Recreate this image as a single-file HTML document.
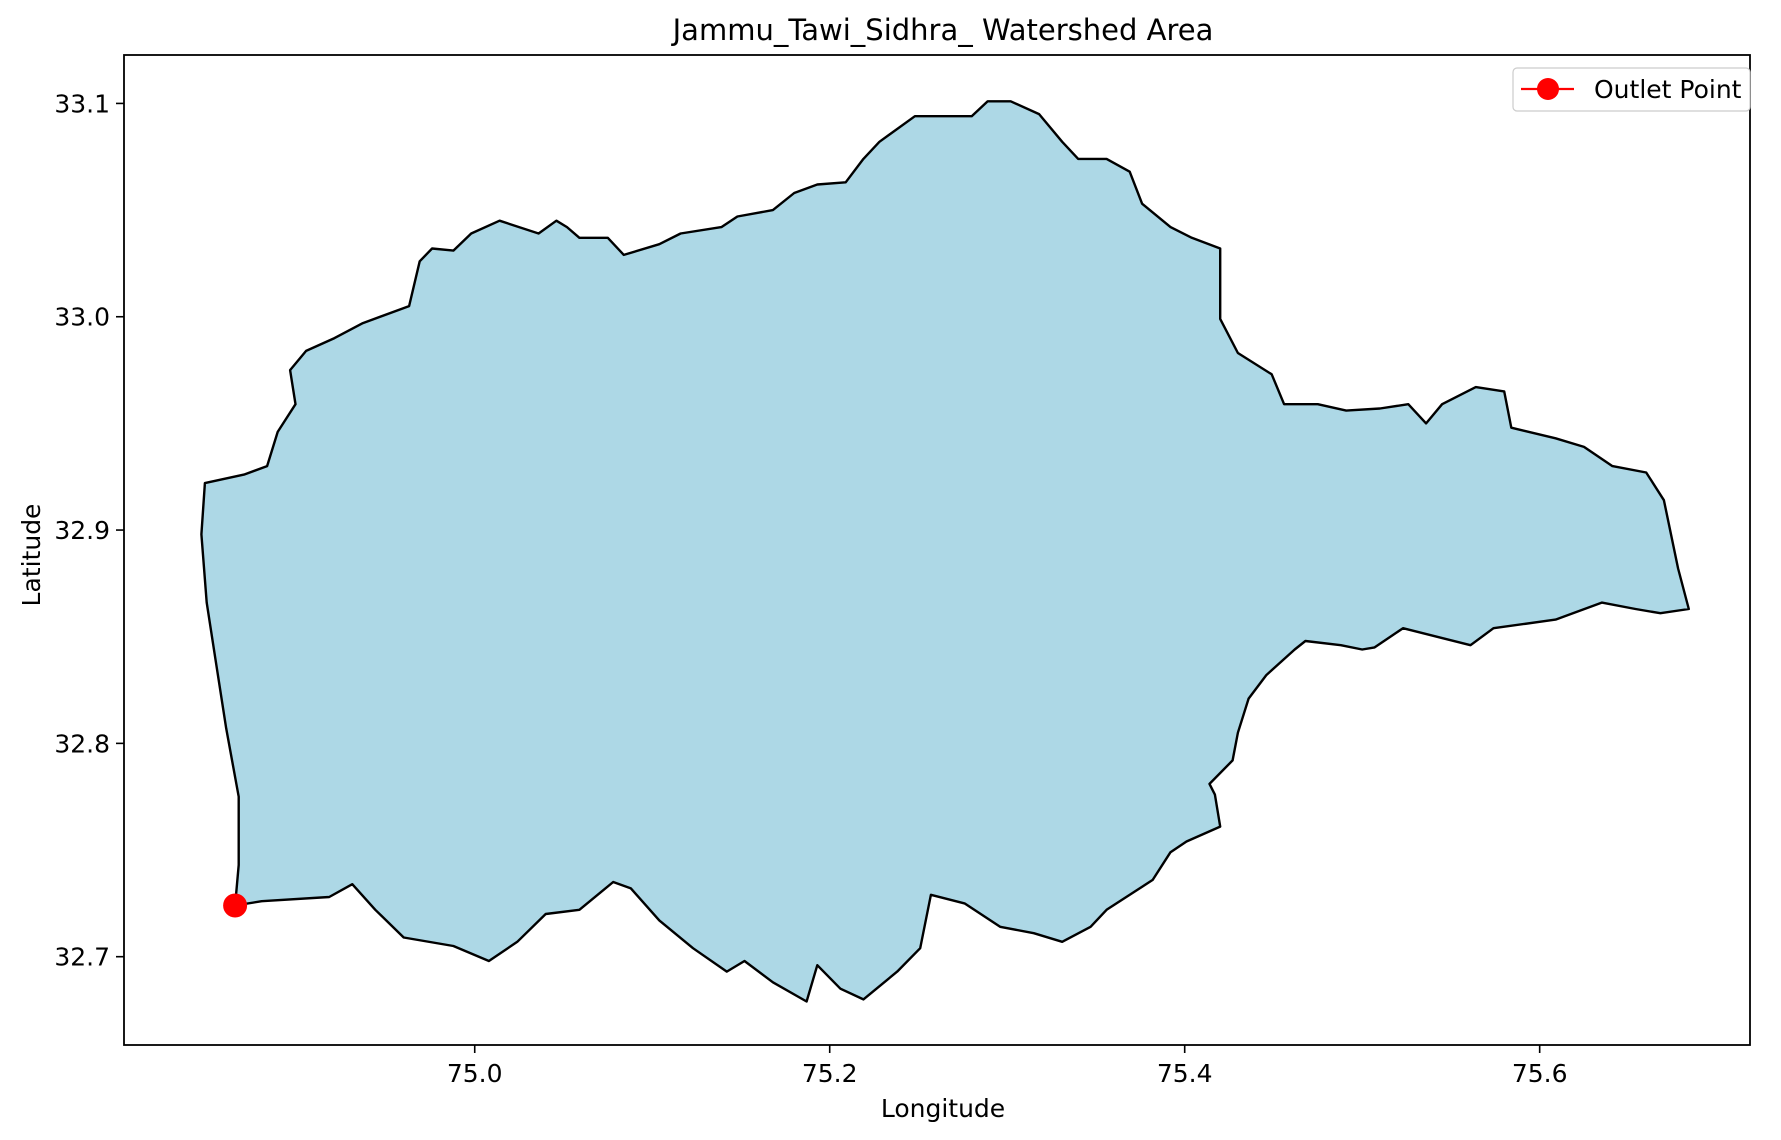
<!DOCTYPE html>
<html><head><meta charset="utf-8"><style>
html,body{margin:0;padding:0;background:#fff;}
svg{display:block;font-family:"DejaVu Sans","Liberation Sans",sans-serif;}
</style></head><body>
<svg id="chart" width="1781" height="1140" viewBox="0 0 1781 1140">
<text x="943" y="40" font-size="29" text-anchor="middle">Jammu_Tawi_Sidhra_ Watershed Area</text>
<g id="plot"></g>
<g id="axes"></g>
<text x="943" y="1117" font-size="25" text-anchor="middle">Longitude</text>
<text x="0" y="0" font-size="25" text-anchor="middle" transform="translate(40,555) rotate(-90)">Latitude</text>
<g>
<rect x="1513" y="68" width="237" height="43" rx="4" fill="#fff" stroke="#ccc" stroke-width="1.2"/>
<line x1="1521" y1="89" x2="1574" y2="89" stroke="red" stroke-width="2.2"/>
<circle cx="1548" cy="89" r="11" fill="red"/>
<text x="1594" y="98" font-size="25">Outlet Point</text>
</g>
</svg>
<script>
const lons = [74.865,74.880,74.918,74.931,74.944,74.960,74.988,75.008,75.024,75.040,75.059,75.078,75.088,75.104,75.123,75.142,75.152,75.168,75.187,75.193,75.206,75.219,75.238,75.251,75.257,75.276,75.296,75.315,75.331,75.347,75.356,75.382,75.392,75.401,75.420,75.417,75.414,75.427,75.430,75.436,75.446,75.462,75.468,75.488,75.500,75.507,75.523,75.542,75.561,75.574,75.609,75.635,75.654,75.668,75.684,75.678,75.670,75.660,75.641,75.625,75.609,75.584,75.580,75.564,75.545,75.536,75.526,75.510,75.491,75.475,75.456,75.449,75.430,75.420,75.420,75.404,75.392,75.376,75.369,75.356,75.340,75.331,75.318,75.302,75.289,75.280,75.264,75.248,75.228,75.219,75.209,75.193,75.180,75.168,75.148,75.139,75.116,75.104,75.084,75.075,75.059,75.052,75.046,75.036,75.014,74.998,74.988,74.976,74.969,74.963,74.937,74.921,74.905,74.896,74.899,74.889,74.883,74.870,74.848,74.846,74.849,74.854,74.860,74.867,74.867];
const lats = [32.724,32.726,32.728,32.734,32.722,32.709,32.705,32.698,32.707,32.720,32.722,32.735,32.732,32.717,32.704,32.693,32.698,32.688,32.679,32.696,32.685,32.680,32.693,32.704,32.729,32.725,32.714,32.711,32.707,32.714,32.722,32.736,32.749,32.754,32.761,32.776,32.781,32.792,32.805,32.821,32.832,32.844,32.848,32.846,32.844,32.845,32.854,32.850,32.846,32.854,32.858,32.866,32.863,32.861,32.863,32.882,32.914,32.927,32.930,32.939,32.943,32.948,32.965,32.967,32.959,32.950,32.959,32.957,32.956,32.959,32.959,32.973,32.983,32.999,33.032,33.037,33.042,33.053,33.068,33.074,33.074,33.082,33.095,33.101,33.101,33.094,33.094,33.094,33.082,33.074,33.063,33.062,33.058,33.050,33.047,33.042,33.039,33.034,33.029,33.037,33.037,33.042,33.045,33.039,33.045,33.039,33.031,33.032,33.026,33.005,32.997,32.990,32.984,32.975,32.959,32.946,32.930,32.926,32.922,32.898,32.866,32.839,32.807,32.775,32.743];
const outletLon = [74.865];
const outletLat = [32.724];
const xTicks = [75.0, 75.2, 75.4, 75.6];
const yTicks = [32.7, 32.8, 32.9, 33.0, 33.1];
const xTickLabels = ["75.0","75.2","75.4","75.6"];
const yTickLabels = ["32.7","32.8","32.9","33.0","33.1"];

const L=124, R=1750, T=55, B=1045;
const xMin=74.8024, xMax=75.7185, yMin=32.6586, yMax=33.1227;
function sx(v){return L+(v-xMin)/(xMax-xMin)*(R-L);}
function sy(v){return B-(v-yMin)/(yMax-yMin)*(B-T);}
const NS="http://www.w3.org/2000/svg";
const plot=document.getElementById('plot');
const axes=document.getElementById('axes');

const poly=document.createElementNS(NS,'polygon');
poly.setAttribute('points',lons.map((v,i)=>sx(v).toFixed(1)+','+sy(lats[i]).toFixed(1)).join(' '));
poly.setAttribute('fill','#add8e6');
poly.setAttribute('stroke','#000');
poly.setAttribute('stroke-width','2.4');
poly.setAttribute('stroke-linejoin','round');


plot.appendChild(poly);

outletLon.forEach((v,i)=>{
  const c=document.createElementNS(NS,'circle');
  c.setAttribute('cx',sx(v));c.setAttribute('cy',sy(outletLat[i]));
  c.setAttribute('r','12');c.setAttribute('fill','red');
  
  
  plot.appendChild(c);
});

const frame=document.createElementNS(NS,'rect');
frame.setAttribute('x',L);frame.setAttribute('y',T);
frame.setAttribute('width',R-L);frame.setAttribute('height',B-T);
frame.setAttribute('fill','none');frame.setAttribute('stroke','#000');frame.setAttribute('stroke-width','1.8');


axes.appendChild(frame);

xTicks.forEach((v,i)=>{
  const x=sx(v);
  const t=document.createElementNS(NS,'line');
  t.setAttribute('x1',x);t.setAttribute('x2',x);t.setAttribute('y1',B);t.setAttribute('y2',B+8);
  t.setAttribute('stroke','#000');t.setAttribute('stroke-width','1.6');
  
  
  axes.appendChild(t);
  const tx=document.createElementNS(NS,'text');
  tx.setAttribute('x',x);tx.setAttribute('y',B+37);tx.setAttribute('font-size','25');tx.setAttribute('text-anchor','middle');
  tx.textContent=xTickLabels[i];
  
  
  axes.appendChild(tx);
});
yTicks.forEach((v,i)=>{
  const y=sy(v);
  const t=document.createElementNS(NS,'line');
  t.setAttribute('x1',L-8);t.setAttribute('x2',L);t.setAttribute('y1',y);t.setAttribute('y2',y);
  t.setAttribute('stroke','#000');t.setAttribute('stroke-width','1.6');
  
  
  axes.appendChild(t);
  const tx=document.createElementNS(NS,'text');
  tx.setAttribute('x',L-14);tx.setAttribute('y',y+9);tx.setAttribute('font-size','25');tx.setAttribute('text-anchor','end');
  tx.textContent=yTickLabels[i];
  
  
  axes.appendChild(tx);
});
</script>
</body></html>
